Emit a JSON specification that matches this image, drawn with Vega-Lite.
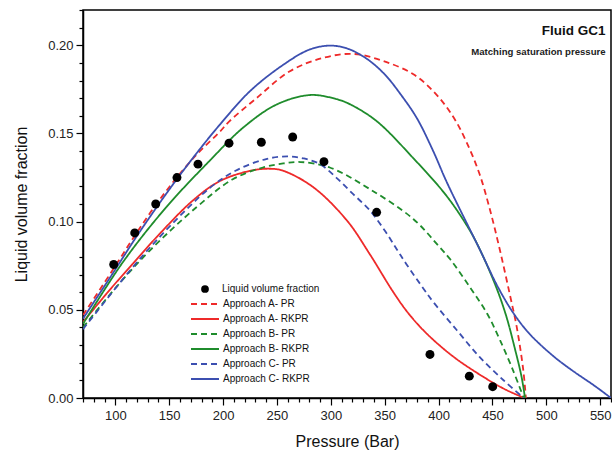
{
  "$schema": "https://vega.github.io/schema/vega-lite/v6.json",
  "width": 528,
  "height": 388,
  "autosize": {"type": "none"},
  "padding": {"left": 83, "top": 10, "right": 1, "bottom": 56},
  "background": "white",
  "config": {
    "font": "Liberation Sans",
    "view": {"stroke": "black", "strokeWidth": 1.5},
    "legend": {"padding": 0},
    "axis": {"grid": false, "domainColor": "black", "domainWidth": 1.5, "tickColor": "black", "tickWidth": 1.2, "labelFont": "Liberation Sans", "labelFontSize": 13, "labelColor": "#222", "titleFont": "Liberation Sans", "titleFontSize": 16, "titleFontWeight": "normal", "titleColor": "#111"}
  },
  "title": {
    "text": "Fluid GC1",
    "subtitle": "Matching saturation pressure",
    "anchor": "end",
    "orient": "top",
    "offset": -47,
    "dx": -6,
    "font": "Liberation Sans",
    "fontSize": 13.5,
    "fontWeight": "bold",
    "color": "#111",
    "subtitleFont": "Liberation Sans",
    "subtitleFontSize": 9.6,
    "subtitleFontWeight": "bold",
    "subtitleColor": "#222",
    "subtitlePadding": 9
  },
  "data": {
    "values": [
      {"series": "Liquid volume fraction", "p": 98.5, "v": 0.0757},
      {"series": "Liquid volume fraction", "p": 118, "v": 0.0936},
      {"series": "Liquid volume fraction", "p": 137.5, "v": 0.110},
      {"series": "Liquid volume fraction", "p": 157.2, "v": 0.125},
      {"series": "Liquid volume fraction", "p": 176.7, "v": 0.1326},
      {"series": "Liquid volume fraction", "p": 205.5, "v": 0.1445},
      {"series": "Liquid volume fraction", "p": 235.5, "v": 0.145},
      {"series": "Liquid volume fraction", "p": 264.6, "v": 0.148},
      {"series": "Liquid volume fraction", "p": 293.6, "v": 0.134},
      {"series": "Liquid volume fraction", "p": 342.5, "v": 0.1053},
      {"series": "Liquid volume fraction", "p": 392, "v": 0.0247},
      {"series": "Liquid volume fraction", "p": 428.5, "v": 0.0124},
      {"series": "Liquid volume fraction", "p": 450.2, "v": 0.0064},

      {"series": "Approach A- PR", "p": 70, "v": 0.047},
      {"series": "Approach A- PR", "p": 98, "v": 0.073},
      {"series": "Approach A- PR", "p": 118, "v": 0.092},
      {"series": "Approach A- PR", "p": 137, "v": 0.109},
      {"series": "Approach A- PR", "p": 157, "v": 0.125},
      {"series": "Approach A- PR", "p": 177, "v": 0.139},
      {"series": "Approach A- PR", "p": 197, "v": 0.151},
      {"series": "Approach A- PR", "p": 206, "v": 0.157},
      {"series": "Approach A- PR", "p": 231, "v": 0.170},
      {"series": "Approach A- PR", "p": 262, "v": 0.1853},
      {"series": "Approach A- PR", "p": 293, "v": 0.1929},
      {"series": "Approach A- PR", "p": 321, "v": 0.1951},
      {"series": "Approach A- PR", "p": 349, "v": 0.191},
      {"series": "Approach A- PR", "p": 377, "v": 0.1834},
      {"series": "Approach A- PR", "p": 398, "v": 0.172},
      {"series": "Approach A- PR", "p": 414, "v": 0.159},
      {"series": "Approach A- PR", "p": 426, "v": 0.145},
      {"series": "Approach A- PR", "p": 438, "v": 0.127},
      {"series": "Approach A- PR", "p": 448, "v": 0.106},
      {"series": "Approach A- PR", "p": 457, "v": 0.0836},
      {"series": "Approach A- PR", "p": 466, "v": 0.059},
      {"series": "Approach A- PR", "p": 472.5, "v": 0.0403},
      {"series": "Approach A- PR", "p": 478.6, "v": 0.0158},
      {"series": "Approach A- PR", "p": 481, "v": 0.0},

      {"series": "Approach A- RKPR", "p": 70, "v": 0.043},
      {"series": "Approach A- RKPR", "p": 93, "v": 0.060},
      {"series": "Approach A- RKPR", "p": 116, "v": 0.076},
      {"series": "Approach A- RKPR", "p": 141, "v": 0.093},
      {"series": "Approach A- RKPR", "p": 172, "v": 0.112},
      {"series": "Approach A- RKPR", "p": 197, "v": 0.123},
      {"series": "Approach A- RKPR", "p": 225, "v": 0.1288},
      {"series": "Approach A- RKPR", "p": 243, "v": 0.130},
      {"series": "Approach A- RKPR", "p": 256, "v": 0.1288},
      {"series": "Approach A- RKPR", "p": 284, "v": 0.1194},
      {"series": "Approach A- RKPR", "p": 315, "v": 0.1006},
      {"series": "Approach A- RKPR", "p": 336, "v": 0.0817},
      {"series": "Approach A- RKPR", "p": 358, "v": 0.060},
      {"series": "Approach A- RKPR", "p": 372, "v": 0.048},
      {"series": "Approach A- RKPR", "p": 389, "v": 0.0365},
      {"series": "Approach A- RKPR", "p": 414, "v": 0.0233},
      {"series": "Approach A- RKPR", "p": 441.5, "v": 0.012},
      {"series": "Approach A- RKPR", "p": 463, "v": 0.0045},
      {"series": "Approach A- RKPR", "p": 480, "v": 0.0},

      {"series": "Approach B- PR", "p": 70, "v": 0.040},
      {"series": "Approach B- PR", "p": 101, "v": 0.063},
      {"series": "Approach B- PR", "p": 132, "v": 0.0836},
      {"series": "Approach B- PR", "p": 175, "v": 0.108},
      {"series": "Approach B- PR", "p": 209, "v": 0.124},
      {"series": "Approach B- PR", "p": 237, "v": 0.1307},
      {"series": "Approach B- PR", "p": 256, "v": 0.133},
      {"series": "Approach B- PR", "p": 272, "v": 0.1338},
      {"series": "Approach B- PR", "p": 299, "v": 0.1307},
      {"series": "Approach B- PR", "p": 336, "v": 0.1185},
      {"series": "Approach B- PR", "p": 376.5, "v": 0.1015},
      {"series": "Approach B- PR", "p": 401, "v": 0.0855},
      {"series": "Approach B- PR", "p": 411, "v": 0.0785},
      {"series": "Approach B- PR", "p": 429, "v": 0.0629},
      {"series": "Approach B- PR", "p": 445, "v": 0.0479},
      {"series": "Approach B- PR", "p": 457, "v": 0.0328},
      {"series": "Approach B- PR", "p": 469, "v": 0.0158},
      {"series": "Approach B- PR", "p": 479, "v": 0.0},

      {"series": "Approach B- RKPR", "p": 70, "v": 0.042},
      {"series": "Approach B- RKPR", "p": 107, "v": 0.077},
      {"series": "Approach B- RKPR", "p": 147, "v": 0.108},
      {"series": "Approach B- RKPR", "p": 187.5, "v": 0.1345},
      {"series": "Approach B- RKPR", "p": 219, "v": 0.1535},
      {"series": "Approach B- RKPR", "p": 250, "v": 0.1665},
      {"series": "Approach B- RKPR", "p": 281, "v": 0.1718},
      {"series": "Approach B- RKPR", "p": 305, "v": 0.1695},
      {"series": "Approach B- RKPR", "p": 318, "v": 0.1665},
      {"series": "Approach B- RKPR", "p": 342.5, "v": 0.157},
      {"series": "Approach B- RKPR", "p": 376.5, "v": 0.136},
      {"series": "Approach B- RKPR", "p": 407.5, "v": 0.1145},
      {"series": "Approach B- RKPR", "p": 429, "v": 0.095},
      {"series": "Approach B- RKPR", "p": 440, "v": 0.082},
      {"series": "Approach B- RKPR", "p": 454, "v": 0.062},
      {"series": "Approach B- RKPR", "p": 463, "v": 0.046},
      {"series": "Approach B- RKPR", "p": 471, "v": 0.0275},
      {"series": "Approach B- RKPR", "p": 477, "v": 0.012},
      {"series": "Approach B- RKPR", "p": 480.2, "v": 0.0},

      {"series": "Approach C- PR", "p": 70, "v": 0.039},
      {"series": "Approach C- PR", "p": 116, "v": 0.074},
      {"series": "Approach C- PR", "p": 150, "v": 0.097},
      {"series": "Approach C- PR", "p": 187.5, "v": 0.119},
      {"series": "Approach C- PR", "p": 212, "v": 0.129},
      {"series": "Approach C- PR", "p": 240, "v": 0.1355},
      {"series": "Approach C- PR", "p": 260, "v": 0.137},
      {"series": "Approach C- PR", "p": 275, "v": 0.1358},
      {"series": "Approach C- PR", "p": 290, "v": 0.1326},
      {"series": "Approach C- PR", "p": 305, "v": 0.125},
      {"series": "Approach C- PR", "p": 320, "v": 0.116},
      {"series": "Approach C- PR", "p": 336, "v": 0.1065},
      {"series": "Approach C- PR", "p": 350, "v": 0.095},
      {"series": "Approach C- PR", "p": 361, "v": 0.0845},
      {"series": "Approach C- PR", "p": 370, "v": 0.076},
      {"series": "Approach C- PR", "p": 386, "v": 0.062},
      {"series": "Approach C- PR", "p": 395, "v": 0.0545},
      {"series": "Approach C- PR", "p": 417, "v": 0.0384},
      {"series": "Approach C- PR", "p": 438, "v": 0.0233},
      {"series": "Approach C- PR", "p": 460, "v": 0.0102},
      {"series": "Approach C- PR", "p": 479, "v": 0.0},

      {"series": "Approach C- RKPR", "p": 70, "v": 0.045},
      {"series": "Approach C- RKPR", "p": 98, "v": 0.071},
      {"series": "Approach C- RKPR", "p": 118, "v": 0.090},
      {"series": "Approach C- RKPR", "p": 137, "v": 0.107},
      {"series": "Approach C- RKPR", "p": 157, "v": 0.124},
      {"series": "Approach C- RKPR", "p": 177, "v": 0.140},
      {"series": "Approach C- RKPR", "p": 197, "v": 0.155},
      {"series": "Approach C- RKPR", "p": 225, "v": 0.174},
      {"series": "Approach C- RKPR", "p": 256, "v": 0.189},
      {"series": "Approach C- RKPR", "p": 280, "v": 0.1975},
      {"series": "Approach C- RKPR", "p": 299, "v": 0.1998},
      {"series": "Approach C- RKPR", "p": 315, "v": 0.1982},
      {"series": "Approach C- RKPR", "p": 333, "v": 0.1925},
      {"series": "Approach C- RKPR", "p": 350, "v": 0.1835},
      {"series": "Approach C- RKPR", "p": 365, "v": 0.172},
      {"series": "Approach C- RKPR", "p": 380, "v": 0.1585},
      {"series": "Approach C- RKPR", "p": 395, "v": 0.140},
      {"series": "Approach C- RKPR", "p": 407.5, "v": 0.1225},
      {"series": "Approach C- RKPR", "p": 438, "v": 0.0845},
      {"series": "Approach C- RKPR", "p": 455, "v": 0.063},
      {"series": "Approach C- RKPR", "p": 469, "v": 0.0485},
      {"series": "Approach C- RKPR", "p": 482, "v": 0.038},
      {"series": "Approach C- RKPR", "p": 494, "v": 0.0305},
      {"series": "Approach C- RKPR", "p": 510, "v": 0.022},
      {"series": "Approach C- RKPR", "p": 525, "v": 0.0152},
      {"series": "Approach C- RKPR", "p": 545, "v": 0.0068},
      {"series": "Approach C- RKPR", "p": 560, "v": 0.0}
    ]
  },
  "encoding": {
    "x": {
      "field": "p", "type": "quantitative",
      "scale": {"domain": [70, 560], "nice": false, "zero": false},
      "axis": {
        "title": "Pressure (Bar)",
        "values": [70,80,90,100,110,120,130,140,150,160,170,180,190,200,210,220,230,240,250,260,270,280,290,300,310,320,330,340,350,360,370,380,390,400,410,420,430,440,450,460,470,480,490,500,510,520,530,540,550,560],
        "labelExpr": "datum.value % 50 === 0 ? datum.label : ''",
        "tickSize": {"condition": {"test": "datum.value % 50 === 0", "value": 7}, "value": 4},
        "labelPadding": 4,
        "titlePadding": 11,
        "labelFlush": false
      }
    },
    "y": {
      "field": "v", "type": "quantitative",
      "scale": {"domain": [0, 0.22], "nice": false},
      "axis": {
        "title": "Liquid volume fraction",
        "values": [0,0.01,0.02,0.03,0.04,0.05,0.06,0.07,0.08,0.09,0.1,0.11,0.12,0.13,0.14,0.15,0.16,0.17,0.18,0.19,0.2,0.21,0.22],
        "format": ".2f",
        "labelExpr": "round(datum.value*100) % 5 === 0 ? datum.label : ''",
        "tickSize": {"condition": {"test": "round(datum.value*100) % 5 === 0", "value": 7}, "value": 4},
        "labelPadding": 3,
        "titlePadding": 18,
        "labelFlush": false
      }
    }
  },
  "layer": [
    {
      "transform": [{"filter": "datum.series !== 'Liquid volume fraction'"}],
      "mark": {"type": "line", "strokeWidth": 1.8, "interpolate": "catmull-rom", "clip": true},
      "encoding": {
        "color": {
          "field": "series", "type": "nominal",
          "scale": {
            "domain": ["Approach A- PR", "Approach A- RKPR", "Approach B- PR", "Approach B- RKPR", "Approach C- PR", "Approach C- RKPR"],
            "range": ["#ee2a2a", "#ee2a2a", "#1f8c2c", "#1f8c2c", "#3c4fb0", "#3c4fb0"]
          },
          "legend": {
            "orient": "none",
            "legendX": 107,
            "legendY": 287.5,
            "title": null,
            "symbolType": "stroke",
            "symbolSize": 784,
            "symbolStrokeWidth": 1.8,
            "labelFont": "Liberation Sans",
            "labelFontSize": 10,
            "labelColor": "#111",
            "labelOffset": 3,
            "clipHeight": 13,
            "rowPadding": 2
          }
        },
        "strokeDash": {
          "field": "series", "type": "nominal",
          "scale": {
            "domain": ["Approach A- PR", "Approach A- RKPR", "Approach B- PR", "Approach B- RKPR", "Approach C- PR", "Approach C- RKPR"],
            "range": [[6, 4], [1, 0], [6, 4], [1, 0], [6, 4], [1, 0]]
          },
          "legend": {
            "orient": "none",
            "legendX": 107,
            "legendY": 287.5,
            "title": null,
            "symbolType": "stroke",
            "symbolSize": 784,
            "symbolStrokeWidth": 1.8,
            "labelFont": "Liberation Sans",
            "labelFontSize": 10,
            "labelColor": "#111",
            "labelOffset": 3,
            "clipHeight": 13,
            "rowPadding": 2
          }
        }
      }
    },
    {
      "transform": [{"filter": "datum.series === 'Liquid volume fraction'"}],
      "mark": {"type": "point", "filled": true, "size": 80, "opacity": 1, "color": "black"},
      "encoding": {
        "shape": {
          "field": "series", "type": "nominal",
          "scale": {"domain": ["Liquid volume fraction"], "range": ["circle"]},
          "legend": {
            "orient": "none",
            "legendX": 117,
            "legendY": 274,
            "title": null,
            "symbolSize": 60,
            "symbolFillColor": "black",
            "symbolStrokeColor": "black",
            "labelFont": "Liberation Sans",
            "labelFontSize": 10,
            "labelColor": "#111",
            "labelOffset": 12
          }
        }
      }
    }
  ]
}
